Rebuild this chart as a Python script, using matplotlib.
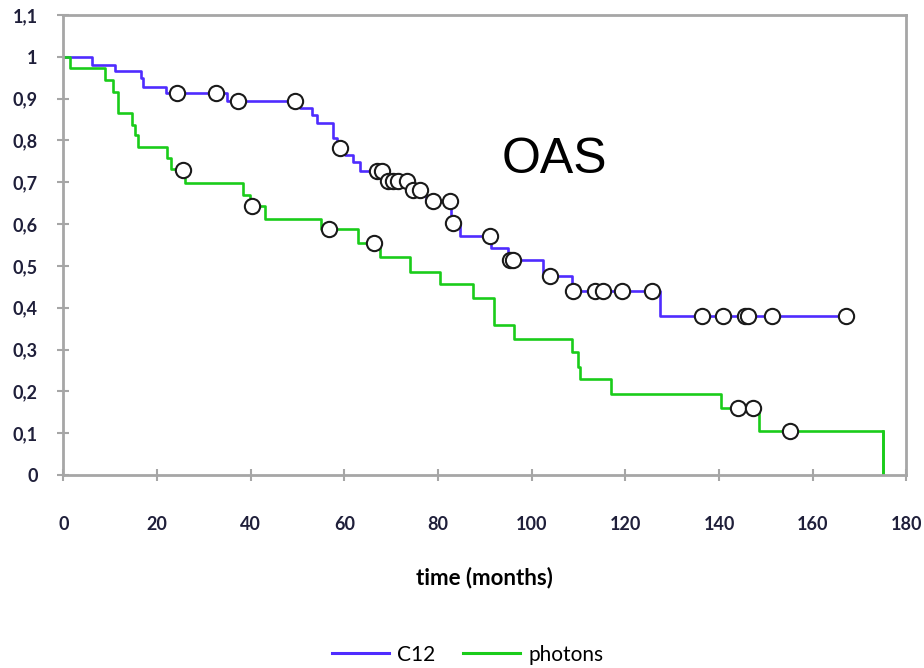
"""
OAS Kaplan-Meier style curves: C12 vs photons, with censor marks.
"""
import matplotlib
matplotlib.use("Agg")
import matplotlib.pyplot as plt
from matplotlib.lines import Line2D

# ── data ─────────────────────────────────────────────────────────────────────
# step changes (month, survival after the step)
c12_t = [0, 6.1, 11.0, 16.6, 17.1, 21.9, 34.9, 50.5, 53.0, 54.1, 57.6, 58.4,
         60.1, 61.9, 63.3, 68.5, 74.2, 77.5, 82.8, 84.7, 91.4, 95.0, 102.5,
         108.5, 127.4, 167.2]
c12_s = [1.0, 0.981, 0.965, 0.949, 0.928, 0.913, 0.895, 0.877, 0.861, 0.841,
         0.806, 0.782, 0.766, 0.748, 0.726, 0.703, 0.682, 0.655, 0.603, 0.572,
         0.542, 0.514, 0.476, 0.439, 0.379, 0.379]

photons_t = [0, 1.4, 8.9, 10.7, 11.7, 14.6, 15.3, 16.0, 22.1, 23.1, 26.0, 38.4,
             39.8, 43.0, 55.0, 63.0, 67.6, 74.0, 80.4, 87.4, 92.0, 96.2, 108.7,
             109.9, 110.4, 116.9, 140.5, 148.5, 175.0]
photons_s = [1.0, 0.973, 0.945, 0.917, 0.865, 0.837, 0.813, 0.785, 0.758,
             0.731, 0.699, 0.670, 0.644, 0.612, 0.588, 0.554, 0.522, 0.486,
             0.457, 0.423, 0.359, 0.325, 0.295, 0.259, 0.229, 0.193, 0.161,
             0.106, 0.0]

# censored observations
c12_cens_t = [24.2, 32.7, 37.3, 49.5, 59.1, 66.9, 68.0, 69.4, 70.4, 71.5, 73.3,
              74.7, 76.1, 79.0, 82.5, 83.1, 91.1, 95.4, 96.0, 104.0, 108.9,
              113.5, 115.3, 119.2, 125.6, 136.3, 140.9, 145.5, 146.2, 151.2,
              167.2]
c12_cens_s = [0.913, 0.913, 0.895, 0.895, 0.782, 0.726, 0.726, 0.703, 0.703,
              0.703, 0.703, 0.682, 0.682, 0.655, 0.655, 0.603, 0.572, 0.514,
              0.514, 0.476, 0.439, 0.439, 0.439, 0.439, 0.439, 0.379, 0.379,
              0.379, 0.379, 0.379, 0.379]

photons_cens_t = [25.6, 40.2, 56.8, 66.3, 144.1, 147.3, 155.1]
photons_cens_s = [0.729, 0.644, 0.588, 0.554, 0.161, 0.161, 0.106]

x_ticks = [0, 20, 40, 60, 80, 100, 120, 140, 160, 180]
y_ticks = [0, 0.1, 0.2, 0.3, 0.4, 0.5, 0.6, 0.7, 0.8, 0.9, 1.0, 1.1]
y_labels = ["0", "0,1", "0,2", "0,3", "0,4", "0,5", "0,6", "0,7", "0,8",
            "0,9", "1", "1,1"]

BLUE = "#4F2CFF"
GREEN = "#1ACC1A"
AXIS_GREY = "#A6A6A6"
LABEL_FONT = ["Lato", "DejaVu Sans"]

# ── plot ─────────────────────────────────────────────────────────────────────
fig = plt.figure(figsize=(9.24, 6.68), dpi=100)
ax = fig.add_axes([0.0685, 0.289, 0.9125, 0.6885])

ax.plot(c12_t, c12_s, drawstyle="steps-post", color=BLUE, lw=1.9, zorder=2)
ax.plot(photons_t, photons_s, drawstyle="steps-post", color=GREEN, lw=1.9,
        zorder=2)
ax.plot([photons_t[-1], photons_t[-1]], [photons_s[-2], 0], color=GREEN,
        lw=1.9, zorder=2)

marker_kw = dict(ls="none", marker="o", ms=11, mfc="white", mec="#1A1A1A",
                 mew=1.5, zorder=3)
ax.plot(c12_cens_t, c12_cens_s, **marker_kw)
ax.plot(photons_cens_t, photons_cens_s, **marker_kw)

ax.set_xlim(0, 180)
ax.set_ylim(0, 1.1)
ax.set_xticks(x_ticks)
ax.set_xticklabels([str(v) for v in x_ticks])
ax.set_yticks(y_ticks)
ax.set_yticklabels(y_labels)

for side in ["left", "right", "top", "bottom"]:
    ax.spines[side].set_color(AXIS_GREY)
    ax.spines[side].set_linewidth(2.0)

ax.tick_params(axis="both", direction="inout", length=9, width=1.5,
               color=AXIS_GREY, labelcolor="#1F1F3A", labelsize=13)
ax.tick_params(axis="y", pad=14)
ax.tick_params(axis="x", pad=25)
for lab in ax.get_xticklabels() + ax.get_yticklabels():
    lab.set_family(LABEL_FONT)
    lab.set_fontweight("bold")

ax.set_xlabel("time (months)", fontsize=16, fontweight="bold",
              family=LABEL_FONT, labelpad=24)

ax.text(0.582, 0.685, "OAS", transform=ax.transAxes, fontsize=36,
        family=["Liberation Sans", "DejaVu Sans"], ha="center", va="center")

handles = [Line2D([], [], color=BLUE, lw=2.2),
           Line2D([], [], color=GREEN, lw=2.2)]
fig.legend(handles, ["C12", "photons"], loc="center", ncol=2,
           bbox_to_anchor=(0.506, 0.02), frameon=False, handlelength=2.75,
           columnspacing=1.3, handletextpad=0.4,
           prop={"family": LABEL_FONT, "size": 15})

fig.savefig("out.png", dpi=100)
